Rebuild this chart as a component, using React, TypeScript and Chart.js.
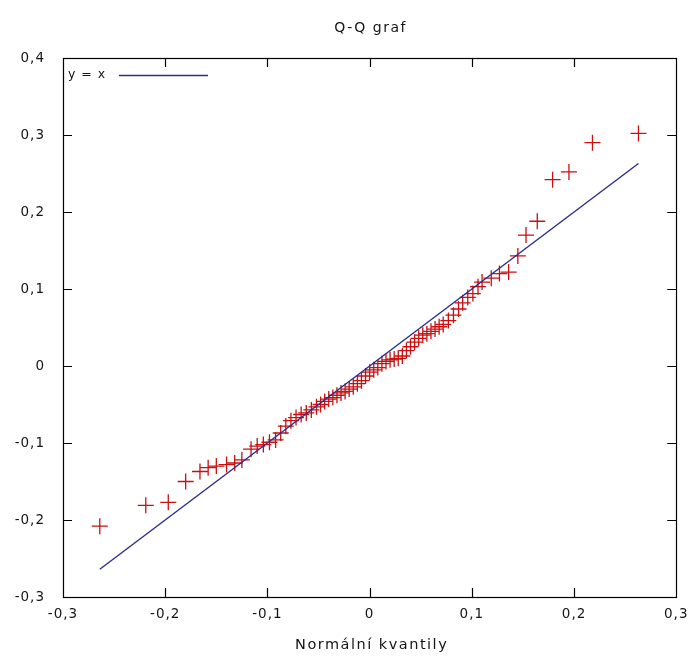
import React, { useEffect, useRef } from "react";
import { Chart, registerables } from "chart.js";

Chart.register(...registerables);

// Normal quantiles (x) and sample quantiles (y)
const normalQuantiles = [
  -0.264, -0.219, -0.197, -0.18, -0.166, -0.158, -0.15, -0.14, -0.132, -0.125,
  -0.116, -0.11, -0.104, -0.098, -0.092, -0.087, -0.082, -0.077, -0.072, -0.067,
  -0.062, -0.057, -0.052, -0.048, -0.044, -0.04, -0.036, -0.032, -0.028, -0.024,
  -0.02, -0.016, -0.012, -0.008, -0.004, 0.0, 0.004, 0.008, 0.012, 0.016,
  0.02, 0.024, 0.028, 0.032, 0.036, 0.04, 0.044, 0.048, 0.052, 0.056,
  0.06, 0.064, 0.068, 0.072, 0.077, 0.082, 0.087, 0.091, 0.096, 0.101,
  0.106, 0.11, 0.119, 0.127, 0.136, 0.145, 0.153, 0.164, 0.179, 0.195,
  0.218, 0.263,
];
const sampleQuantiles = [
  -0.208, -0.181, -0.177, -0.15, -0.137, -0.132, -0.13, -0.128, -0.126, -0.122,
  -0.108, -0.104, -0.102, -0.099, -0.096, -0.087, -0.078, -0.071, -0.067, -0.063,
  -0.061, -0.057, -0.053, -0.05, -0.046, -0.043, -0.041, -0.038, -0.035, -0.033,
  -0.03, -0.027, -0.023, -0.019, -0.013, -0.008, -0.005, -0.002, 0.003, 0.006,
  0.008, 0.009, 0.01, 0.013, 0.02, 0.025, 0.031, 0.036, 0.04, 0.042,
  0.045, 0.048, 0.051, 0.054, 0.059, 0.066, 0.074, 0.082, 0.089, 0.094,
  0.103, 0.109, 0.114, 0.12, 0.122, 0.143, 0.17, 0.188, 0.242, 0.252,
  0.29, 0.302,
];
// Reference line y = x
const lineX = [-0.264, 0.263];
const lineY = [-0.264, 0.263];

const titleText = "Q-Q graf";
const xAxisTitle = "Normální kvantily";
const legendLabel = "y = x";

const xRange = [-0.3, 0.3];
const yRange = [-0.3, 0.4];
const tickStep = 0.1;

const fmt = (v: number) => {
  const r = Math.round(v * 10) / 10;
  if (r === 0) return "0";
  return r.toFixed(1).replace(".", ",");
};

const LINE_COLOR = "#2c2c8e";
const POINT_COLOR = "#c81010";
const TEXT_COLOR = "#151515";
const FONT = '"DejaVu Sans", sans-serif';

const framePlugin = {
  id: "gnuplotFrame",
  beforeDraw(chart: any) {
    (chart.ctx as any).letterSpacing = "1px";
  },
  afterDraw(chart: any) {
    const ctx = chart.ctx as CanvasRenderingContext2D;
    const { left, right, top, bottom } = chart.chartArea;
    const xs = chart.scales.x;
    const ys = chart.scales.y;
    ctx.save();
    ctx.strokeStyle = "#000";
    ctx.lineWidth = 1.2;
    ctx.strokeRect(Math.round(left) + 0.5, Math.round(top) + 0.5, Math.round(right - left), Math.round(bottom - top));
    const tl = 9;
    ctx.beginPath();
    xs.ticks.forEach((t: any) => {
      if (Math.abs(t.value - xRange[0]) < 1e-9 || Math.abs(t.value - xRange[1]) < 1e-9) return;
      const px = Math.round(xs.getPixelForValue(t.value)) + 0.5;
      ctx.moveTo(px, bottom);
      ctx.lineTo(px, bottom - tl);
      ctx.moveTo(px, top);
      ctx.lineTo(px, top + tl);
    });
    ys.ticks.forEach((t: any) => {
      if (Math.abs(t.value - yRange[0]) < 1e-9 || Math.abs(t.value - yRange[1]) < 1e-9) return;
      const py = Math.round(ys.getPixelForValue(t.value)) + 0.5;
      ctx.moveTo(left, py);
      ctx.lineTo(left + tl, py);
      ctx.moveTo(right, py);
      ctx.lineTo(right - tl, py);
    });
    ctx.stroke();

    // title
    (ctx as any).letterSpacing = "1.5px";
    ctx.fillStyle = TEXT_COLOR;
    ctx.font = `14px ${FONT}`;
    ctx.textAlign = "center";
    ctx.textBaseline = "middle";
    ctx.fillText(titleText, (left + right) / 2 + 1, 28);
    // x axis title
    ctx.font = `14.5px ${FONT}`;
    ctx.fillText(xAxisTitle, (left + right) / 2 + 2, 645);

    // legend
    (ctx as any).letterSpacing = "1px";
    ctx.font = `12.5px ${FONT}`;
    ctx.textAlign = "left";
    const ly = top + 17;
    ctx.fillText(legendLabel, left + 5, ly);
    ctx.strokeStyle = LINE_COLOR;
    ctx.lineWidth = 1.4;
    ctx.beginPath();
    ctx.moveTo(left + 56, ly + 0.5);
    ctx.lineTo(left + 145, ly + 0.5);
    ctx.stroke();
    ctx.restore();
  },
};

export default function App() {
  const ref = useRef<HTMLCanvasElement>(null);
  useEffect(() => {
    if (!ref.current) return;
    const chart = new Chart(ref.current, {
      type: "scatter",
      data: {
        datasets: [
          {
            label: legendLabel,
            data: lineX.map((x, i) => ({ x, y: lineY[i] })),
            showLine: true,
            borderColor: LINE_COLOR,
            borderWidth: 1.4,
            pointRadius: 0,
            fill: false,
          },
          {
            label: "data",
            data: normalQuantiles.map((x, i) => ({ x, y: sampleQuantiles[i] })),
            pointStyle: "cross",
            pointRadius: 8,
            borderColor: POINT_COLOR,
            borderWidth: 1.3,
            backgroundColor: POINT_COLOR,
          },
        ],
      },
      options: {
        animation: false,
        responsive: false,
        maintainAspectRatio: false,
        devicePixelRatio: 1,
        layout: { padding: { left: 0, right: 19, top: 58, bottom: 0 } },
        plugins: {
          legend: { display: false },
          title: { display: false },
          tooltip: { enabled: false },
        },
        scales: {
          x: {
            type: "linear",
            min: xRange[0],
            max: xRange[1],
            afterFit: (s: any) => {
              s.height = 64;
            },
            grid: { display: false, drawTicks: false },
            border: { display: false },
            ticks: {
              stepSize: tickStep,
              padding: 9,
              color: TEXT_COLOR,
              font: { family: FONT, size: 13.5 },
              callback: (v: any) => fmt(Number(v)),
              maxRotation: 0,
            },
          },
          y: {
            type: "linear",
            min: yRange[0],
            max: yRange[1],
            afterFit: (s: any) => {
              s.width = 63;
            },
            grid: { display: false, drawTicks: false },
            border: { display: false },
            ticks: {
              stepSize: tickStep,
              padding: 18,
              color: TEXT_COLOR,
              font: { family: FONT, size: 13.5 },
              callback: (v: any) => fmt(Number(v)),
            },
          },
        },
      },
      plugins: [framePlugin],
    });
    return () => chart.destroy();
  }, []);
  return (
    <div style={{ position: "absolute", left: 0, top: 0, width: 696, height: 661, background: "#fff" }}>
      <canvas ref={ref} width={696} height={661} style={{ width: 696, height: 661 }} />
    </div>
  );
}
